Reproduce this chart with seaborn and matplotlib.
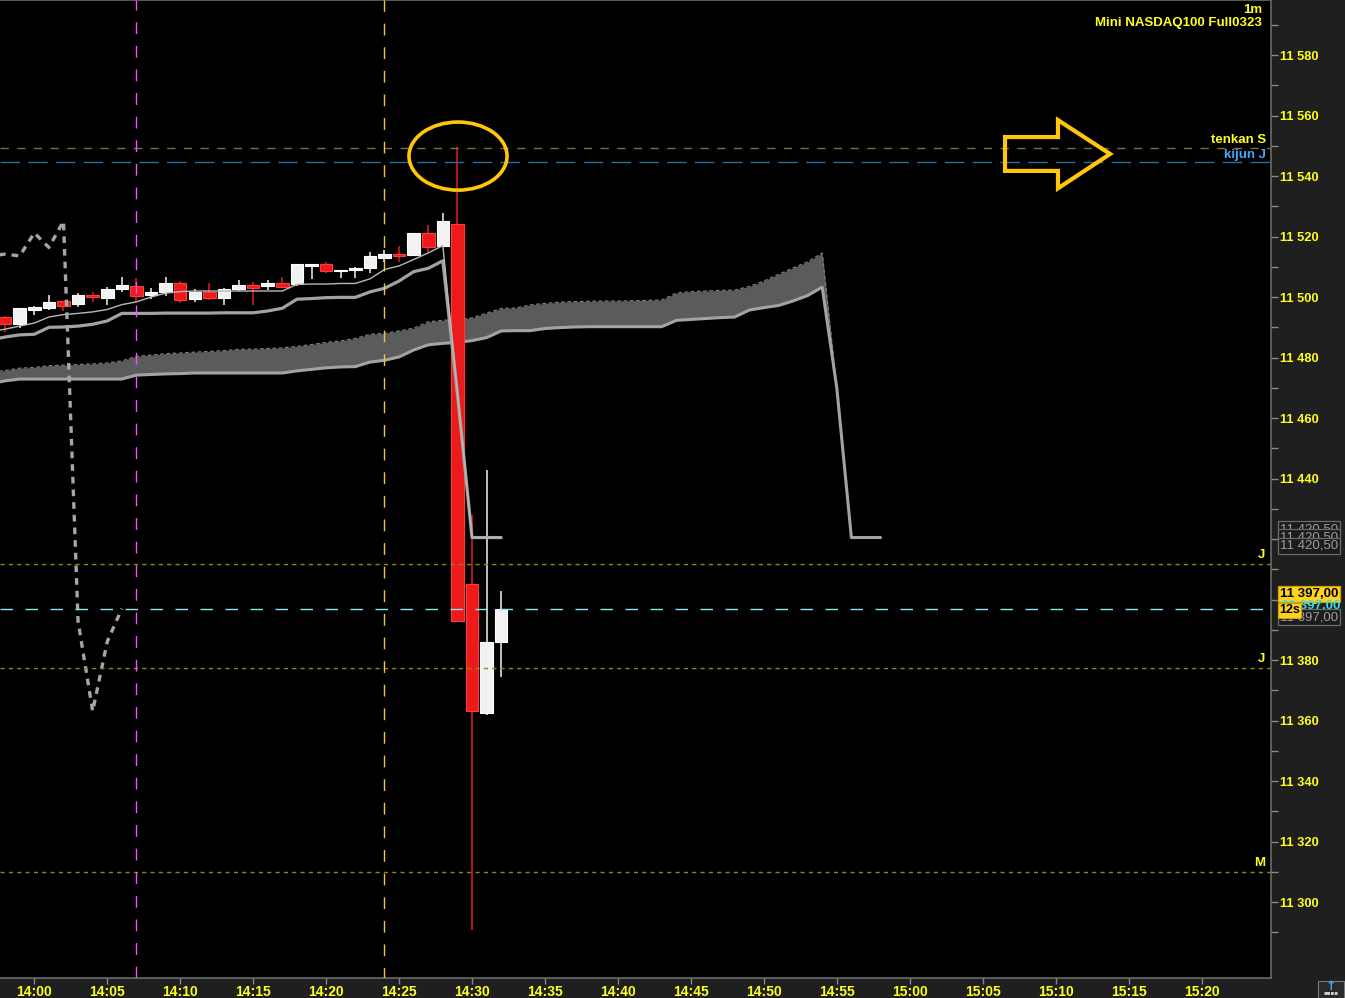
import matplotlib
matplotlib.use("Agg")
import numpy as np
import pandas as pd
import matplotlib.pyplot as plt
import seaborn as sns
from matplotlib.patches import Ellipse, Polygon, Rectangle
from matplotlib.ticker import FixedLocator, FuncFormatter

# ------------------------------------------------------------------ data
# minutes relative to 14:00
candle_min = list(range(-2, 33))
opens = [11493.5, 11491.1, 11495.7, 11496.5, 11498.7, 11497.8, 11500.7, 11499.7, 11502.7, 11503.7,
         11500.7, 11501.7, 11504.6, 11499.4, 11501.7, 11499.8, 11502.7, 11504.0, 11503.7, 11504.6,
         11504.2, 11510.4, 11510.9, 11508.6, 11508.9, 11509.6, 11512.9, 11514.2, 11513.9, 11521.2,
         11517.0, 11524.2, 11405.2, 11362.4, 11385.9]
highs = [11493.7, 11496.4, 11497.0, 11500.7, 11498.7, 11501.3, 11501.7, 11503.3, 11506.6, 11506.3,
         11502.9, 11506.5, 11505.3, 11502.6, 11504.6, 11502.9, 11505.6, 11505.0, 11505.6, 11506.6,
         11510.9, 11510.9, 11511.6, 11508.9, 11510.0, 11514.9, 11515.6, 11516.9, 11521.2, 11523.9,
         11527.8, 11549.5, 11428.1, 11442.9, 11402.8]
lows = [11488.5, 11489.9, 11494.1, 11495.7, 11495.4, 11496.8, 11498.5, 11497.5, 11501.7, 11498.4,
        11499.5, 11500.5, 11498.0, 11498.4, 11499.1, 11497.5, 11502.0, 11497.4, 11502.3, 11503.4,
        11503.7, 11506.0, 11508.0, 11506.3, 11506.3, 11507.9, 11511.6, 11511.6, 11513.6, 11514.9,
        11516.5, 11392.8, 11290.7, 11361.9, 11374.3]
closes = [11491.2, 11496.4, 11496.7, 11498.4, 11497.1, 11500.6, 11499.9, 11502.7, 11504.0, 11500.5,
          11501.7, 11504.6, 11499.1, 11501.7, 11499.8, 11502.6, 11504.0, 11503.1, 11504.6, 11503.4,
          11510.9, 11510.9, 11508.7, 11508.9, 11509.6, 11513.6, 11514.2, 11513.6, 11521.2, 11516.4,
          11525.1, 11392.8, 11363.1, 11386.1, 11397.0]

line_min = list(range(-3, 33))
tenkan = [11488.5, 11489.4, 11490.4, 11491.4, 11493.4, 11494.2, 11494.6, 11495.1, 11495.9, 11497.5,
          11498.4, 11500.0, 11501.3, 11501.8, 11502.0, 11502.0, 11502.0, 11502.0, 11502.0, 11502.0,
          11502.0, 11504.2, 11504.3, 11504.3, 11504.5, 11504.5, 11506.0, 11509.1, 11510.3, 11512.4,
          11514.6, 11517.0, 11468.6, 11420.5, 11420.5, 11420.5]
kijun = [11485.8, 11486.8, 11487.5, 11487.7, 11490.0, 11490.1, 11490.4, 11491.0, 11492.1, 11494.6,
         11494.6, 11494.6, 11494.7, 11494.7, 11494.7, 11494.7, 11494.8, 11494.8, 11494.8, 11495.4,
         11496.3, 11499.3, 11499.5, 11499.8, 11499.9, 11499.9, 11501.7, 11502.9, 11505.3, 11508.4,
         11509.5, 11512.0, 11468.0, 11420.5, 11420.5, 11420.5]

cloud_min = list(range(-3, 59))
span_a = [11475.2, 11475.7, 11476.5, 11476.7, 11477.3, 11477.5, 11477.7, 11477.9, 11478.2, 11478.9,
          11480.4, 11480.8, 11481.3, 11481.5, 11481.8, 11482.0, 11482.3, 11482.7, 11482.8, 11483.0,
          11483.2, 11483.7, 11484.3, 11485.0, 11485.5, 11486.3, 11487.7, 11488.0, 11488.8, 11489.7,
          11491.8, 11492.3, 11492.6, 11493.1, 11494.7, 11496.2, 11496.4, 11497.4, 11497.9, 11498.3,
          11498.5, 11498.6, 11498.7, 11498.7, 11498.8, 11498.9, 11499.0, 11501.3, 11501.8, 11502.0,
          11502.2, 11502.3, 11503.5, 11505.3, 11507.5, 11509.6, 11511.6, 11514.6, 11470.0, 11420.5,
          11420.5, 11420.5]
span_b = [11471.4, 11472.3, 11472.9, 11472.9, 11472.9, 11472.9, 11472.9, 11472.9, 11472.9, 11472.9,
          11474.2, 11474.4, 11474.6, 11474.7, 11474.9, 11474.9, 11474.9, 11474.9, 11474.9, 11474.9,
          11474.9, 11475.6, 11476.1, 11476.6, 11476.9, 11477.0, 11478.5, 11479.1, 11480.2, 11482.5,
          11484.2, 11484.7, 11485.0, 11485.6, 11486.6, 11488.8, 11488.9, 11488.9, 11489.6, 11489.9,
          11490.1, 11490.2, 11490.2, 11490.2, 11490.2, 11490.2, 11490.2, 11492.3, 11492.6, 11492.9,
          11493.2, 11493.4, 11495.7, 11496.5, 11497.2, 11498.7, 11500.5, 11503.3, 11470.0, 11420.5,
          11420.5, 11420.5]
chikou_shift = 26

level_tenkan_s = 11549.4
level_kijun_j = 11544.6
levels_dotted = [11411.8, 11377.4, 11309.9]
levels_dotted_names = ["J", "J", "M"]
last_price = 11397.0
vline_minutes = [7, 24]

x_ticks = list(range(0, 81, 5))
x_tick_labels = [f"{14 + (m // 60)}:{m % 60:02d}" for m in x_ticks]
y_major = list(range(11300, 11581, 20))
y_minor = list(range(11290, 11600, 20))

# ------------------------------------------------------------------ style
sns.set_theme(style="dark", rc={"axes.facecolor": "black", "figure.facecolor": "#1f1f1f",
                                "axes.grid": False})
plt.rcParams["font.family"] = ["Liberation Sans", "DejaVu Sans"]
YEL = "#ffff1e"
ORANGE = "#ffc60a"

W, H = 1345, 998
fig = plt.figure(figsize=(W / 100, H / 100), dpi=100)
ax = fig.add_axes([0, 20 / H, 1271 / W, 978 / H])
ax.set_facecolor("black")
ax.set_xlim(-2.351, 84.76)
ax.set_ylim(11274.9, 11598.2)

# cloud
ax.fill_between(cloud_min, span_a, span_b, color="#5b5b5b", lw=0, zorder=1)
sns.lineplot(x=cloud_min, y=span_a, ax=ax, color="#7c7c7c", lw=0.9,
             linestyle=(0, (3, 2)), zorder=2)
sns.lineplot(x=cloud_min, y=span_b, ax=ax, color="#a3a3a3", lw=2.2, zorder=2)

# candles
df = pd.DataFrame({"t": candle_min, "o": opens, "h": highs, "l": lows, "c": closes})
up = df["c"] >= df["o"]
body_col = np.where(up, "#f2f2f2", "#ec1a1a")
edge_col = np.where(up, "#ffffff", "#ff3c3c")
ax.vlines(df["t"], df["l"], df["h"], colors=body_col, lw=1.1, zorder=2.9)
ax.bar(df["t"], np.maximum((df["c"] - df["o"]).abs(), 0.4), bottom=np.minimum(df["o"], df["c"]),
       width=0.86, color=body_col, edgecolor=edge_col, linewidth=0.8, zorder=3)

# tenkan / kijun
sns.lineplot(x=line_min, y=kijun, ax=ax, color="#a3a3a3", lw=2.3, zorder=4)
sns.lineplot(x=line_min, y=tenkan, ax=ax, color="#b8b8b8", lw=1.0, zorder=4)

# chikou (lagging close)
lag = df[df["t"] - chikou_shift >= -3]
sns.lineplot(x=lag["t"] - chikou_shift, y=lag["c"], ax=ax, color="#a6a6a6", lw=2.4,
             linestyle=(0, (2.0, 1.8)), zorder=4)

# horizontal levels
ax.axhline(level_tenkan_s, color="#7d7035", lw=1, ls=(0, (6, 6)), zorder=5)
ax.axhline(level_kijun_j, color="#2a6f9a", lw=1, ls=(0, (14, 6)), zorder=5)
for lv in levels_dotted:
    ax.axhline(lv, color="#8a8a10", lw=1, ls=(0, (3, 3)), zorder=5)
ax.axhline(last_price, color="#8ae8f0", lw=1, ls=(0, (9, 9)), zorder=5)
ax.axvline(vline_minutes[0], color="#ff4dff", lw=1, ls=(0, (8.5, 8.5)), zorder=5)
ax.axvline(vline_minutes[1], color="#f5c242", lw=1, ls=(1, (8.5, 8.5)), zorder=5)

# annotations (ellipse + arrow)
ax.add_patch(Ellipse((29.04, 11546.6), width=6.72, height=22.5, fill=False,
                     ec=ORANGE, lw=2.6, zorder=6))
arrow_pts = [(66.53, 11552.9), (70.16, 11552.9), (70.16, 11558.5), (73.73, 11547.3),
             (70.16, 11535.95), (70.16, 11541.7), (66.53, 11541.7)]
ax.add_patch(Polygon(arrow_pts, closed=True, fill=False, ec=ORANGE, lw=3, joinstyle="miter", zorder=6))

# axis styling
ax.xaxis.set_major_locator(FixedLocator(x_ticks))
ax.set_xticklabels(x_tick_labels)
ax.yaxis.tick_right()
ax.yaxis.set_major_locator(FixedLocator(y_major))
ax.yaxis.set_minor_locator(FixedLocator(y_minor))
ax.yaxis.set_major_formatter(FuncFormatter(lambda v, p: f"{int(v) // 1000} {int(v) % 1000:03d}"))
ax.tick_params(axis="x", which="major", direction="out", length=4, width=1, color="#8a8a8a",
               labelcolor=YEL, labelsize=10, pad=1.0, bottom=True)
ax.tick_params(axis="y", which="both", direction="out", length=5, width=1, color="#8a8a8a",
               labelcolor=YEL, labelsize=9.3, pad=1.5, right=True, left=False)
for lab in ax.get_xticklabels() + ax.get_yticklabels():
    lab.set_fontweight("bold")
ax.set_xlabel("")
ax.set_ylabel("")
ax.spines["left"].set_visible(False)
for s in ["top", "right", "bottom"]:
    ax.spines[s].set_visible(True)
    ax.spines[s].set_color("#6a6a6a")
    ax.spines[s].set_linewidth(1.2)

# texts inside plot
tr = ax.get_yaxis_transform()
xr = 1266 / 1271
ax.text(xr, 11552.0, "tenkan S", transform=tr, ha="right", va="center", color=YEL,
        fontsize=9.5, fontweight="bold", zorder=7)
ax.text(xr, 11547.0, "kijun J", transform=tr, ha="right", va="center", color="#3fa9f5",
        fontsize=9.5, fontweight="bold", zorder=7)
for lv, nm in zip(levels_dotted, levels_dotted_names):
    ax.text(1265 / 1271, lv + 3.0, nm, transform=tr, ha="right", va="center", color=YEL,
            fontsize=9.5, fontweight="bold", zorder=7)

def fx(px):
    return px / W

def fy(py):
    return 1 - py / H

fig.text(fx(1262), fy(10), "1m", ha="right", va="center", color=YEL, fontsize=9.5, fontweight="bold")
fig.text(fx(1262), fy(23), "Mini NASDAQ100 Full0323", ha="right", va="center", color=YEL,
         fontsize=9.5, fontweight="bold")

grey_box = dict(boxstyle="square,pad=0.15", fc="#1c1c1c", ec="#6a6a6a", lw=0.9)
for py in (529, 537, 546):
    fig.text(fx(1280), fy(py), "11 420,50", ha="left", va="center", color="#9c9c9c",
             fontsize=9.5, bbox=grey_box)
fig.text(fx(1280), fy(594), "11 397,00", ha="left", va="center", color="black", fontsize=9.5,
         fontweight="bold", bbox=dict(boxstyle="square,pad=0.15", fc="#ffd21f", ec="#c8a000", lw=0.9))
fig.text(fx(1282), fy(606), "11 397,00", ha="left", va="center", color="#40d8e8", fontsize=9.5,
         fontweight="bold")
fig.text(fx(1280), fy(617), "11 397,00", ha="left", va="center", color="#9c9c9c", fontsize=9.5,
         bbox=grey_box)
fig.text(fx(1279), fy(610), "12s", ha="left", va="center", color="black", fontsize=9,
         fontweight="bold", bbox=dict(boxstyle="square,pad=0.12", fc="#ffd21f", ec="#c8a000", lw=0.8))

# bottom-right icon
fig.add_artist(Rectangle((fx(1318), fy(998)), 26 / W, 17 / H, transform=fig.transFigure,
                         fc="#2a2a2a", ec="#7a7a7a", lw=0.8))
fig.text(fx(1331), fy(986), "↑", ha="center", va="center", color="#3fa9f5", fontsize=9,
         fontweight="bold", family=["DejaVu Sans"])
fig.text(fx(1331), fy(993), "▪▪▪▪", ha="center", va="center", color="#cfcfcf", fontsize=4,
         family=["DejaVu Sans"])

fig.savefig("out.png", dpi=100, facecolor=fig.get_facecolor())
